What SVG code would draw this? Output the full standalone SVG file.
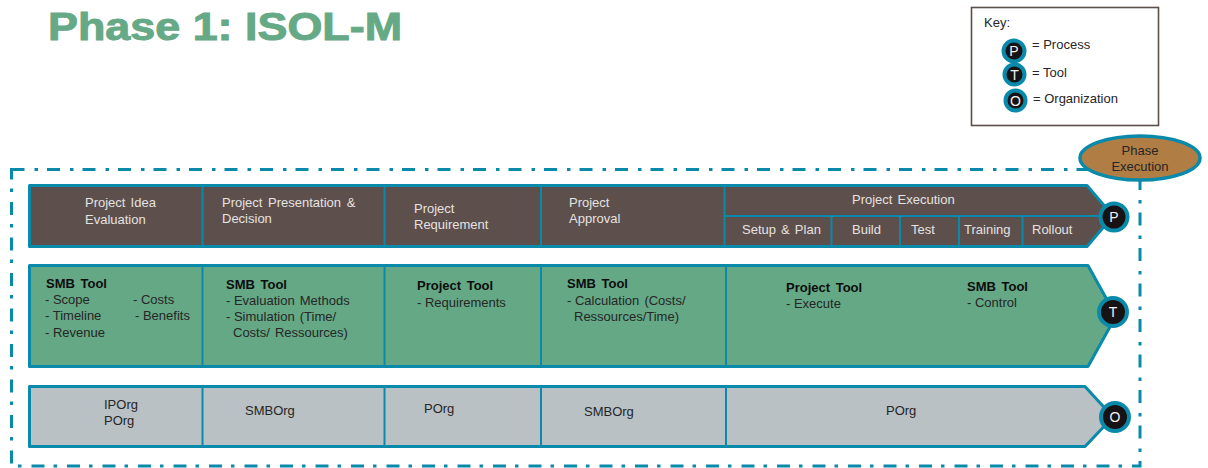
<svg xmlns="http://www.w3.org/2000/svg" width="1208" height="468" viewBox="0 0 1208 468">
<style>
text{font-family:"Liberation Sans",Arial,sans-serif;font-size:13px;fill:#262626}
.w{fill:#e6e2e0;word-spacing:1.5px}
.s{word-spacing:1.5px}
.b{font-weight:bold;fill:#0d0d0d;word-spacing:2px}
.bar{stroke:#0a8aab;stroke-width:3;stroke-linejoin:round}
.div{stroke:#0a8aab;stroke-width:2;fill:none}
.c{fill:#171314;stroke:#0a8aab;stroke-width:4}
.ct{fill:#f2f2f2;font-size:14px;text-anchor:middle}
</style>
<rect width="1208" height="468" fill="#fff"/>
<text id="title" x="48" y="39.500" style="font-weight:bold;font-size:39px;fill:#66a986;stroke:#66a986;stroke-width:1" textLength="354" lengthAdjust="spacingAndGlyphs">Phase 1: ISOL-M</text>
<g id="key">
<rect x="971.500" y="7.500" width="187" height="118" fill="#fff" stroke="#5a4f4b" stroke-width="1.6"/>
<text x="984" y="27">Key:</text>
<circle class="c" cx="1014" cy="51" r="10.500"/><text class="ct" x="1014" y="56">P</text>
<circle class="c" cx="1014.500" cy="74.500" r="10"/><text class="ct" x="1014.500" y="80">T</text>
<circle class="c" cx="1015.500" cy="100.500" r="10"/><text class="ct" x="1015.500" y="106">O</text>
<text x="1032" y="49">= Process</text>
<text x="1032" y="77">= Tool</text>
<text x="1033" y="103">= Organization</text>
</g>
<g id="connectors">
<rect x="11.500" y="169.500" width="1128.500" height="296.500" fill="none" stroke="#0a8aab" stroke-width="3" stroke-dasharray="13 10 3.500 9"/>
</g>
<g id="phase-execution">
<ellipse cx="1140" cy="158" rx="60" ry="22" fill="#b07d45" stroke="#0a8aab" stroke-width="3.500"/>
<text x="1140" y="155" text-anchor="middle">Phase</text>
<text x="1140" y="171" text-anchor="middle">Execution</text>
</g>
<g id="process-bar">
<path class="bar" fill="#5c4f4c" d="M29.500 185.500H1087L1113 216L1087 246.500H29.500Z"/>
<path class="div" d="M202.500 186V246M384.500 186V246M541 186V246M724.500 186V246M725 216H1105M831.500 216V246M900 216V246M959 216V246M1022.500 216V246"/>
<text class="w" x="85" y="207">Project Idea</text><text class="w" x="85" y="223.500">Evaluation</text>
<text class="w" x="222" y="206.500" style="word-spacing:2px">Project Presentation &amp;</text><text class="w" x="222" y="222.500">Decision</text>
<text class="w" x="414" y="212.500">Project</text><text class="w" x="414" y="228.500">Requirement</text>
<text class="w" x="569" y="206.500">Project</text><text class="w" x="569" y="222.500">Approval</text>
<text class="w" x="852" y="204">Project Execution</text>
<text class="w" x="742" y="234">Setup &amp; Plan</text>
<text class="w" x="852" y="234">Build</text><text class="w" x="911" y="234">Test</text><text class="w" x="964" y="234">Training</text><text class="w" x="1032" y="234">Rollout</text>
</g>
<g id="process-badge"><circle class="c" cx="1114" cy="217" r="13.500"/><text class="ct" x="1114" y="222">P</text></g>
<g id="tool-bar">
<path class="bar" fill="#64a885" d="M29.500 265.500H1088L1116 316L1088 366.500H29.500Z"/>
<path class="div" d="M202.500 266V366M384.500 266V366M541 266V366M726 266V366"/>
<text class="b" x="46" y="288">SMB Tool</text>
<text x="45" y="304">- Scope</text><text x="45" y="320">- Timeline</text><text x="45" y="337">- Revenue</text>
<text x="133" y="304">- Costs</text><text x="135" y="320">- Benefits</text>
<text class="b" x="226" y="289">SMB Tool</text>
<text x="226" y="305">- <tspan class="s">Evaluation Methods</tspan></text><text x="226" y="321">- <tspan class="s">Simulation (Time/</tspan></text><text class="s" x="233" y="337">Costs/ Ressources)</text>
<text class="b" x="417" y="290">Project Tool</text><text x="417" y="307">- Requirements</text>
<text class="b" x="567" y="288">SMB Tool</text>
<text x="567" y="305">- <tspan class="s">Calculation (Costs/</tspan></text><text x="574" y="321">Ressources/Time)</text>
<text class="b" x="786" y="292">Project Tool</text><text x="786" y="308">- Execute</text>
<text class="b" x="967" y="291">SMB Tool</text><text x="967" y="307">- Control</text>
</g>
<g id="tool-badge"><circle class="c" cx="1113" cy="312" r="14"/><text class="ct" x="1113" y="317">T</text></g>
<g id="org-bar">
<path class="bar" fill="#b9c1c4" d="M29.500 386.500H1085L1113 417L1085 446.500H29.500Z"/>
<path class="div" d="M202.500 387V446M384.500 387V446M541 387V446M726 387V446"/>
<text x="104" y="409">IPOrg</text><text x="104" y="425">POrg</text>
<text x="245" y="415">SMBOrg</text><text x="424" y="413">POrg</text><text x="584" y="416">SMBOrg</text><text x="886" y="415">POrg</text>
</g>
<g id="org-badge"><circle class="c" cx="1115" cy="417" r="14"/><text class="ct" x="1115" y="422">O</text></g>
</svg>
